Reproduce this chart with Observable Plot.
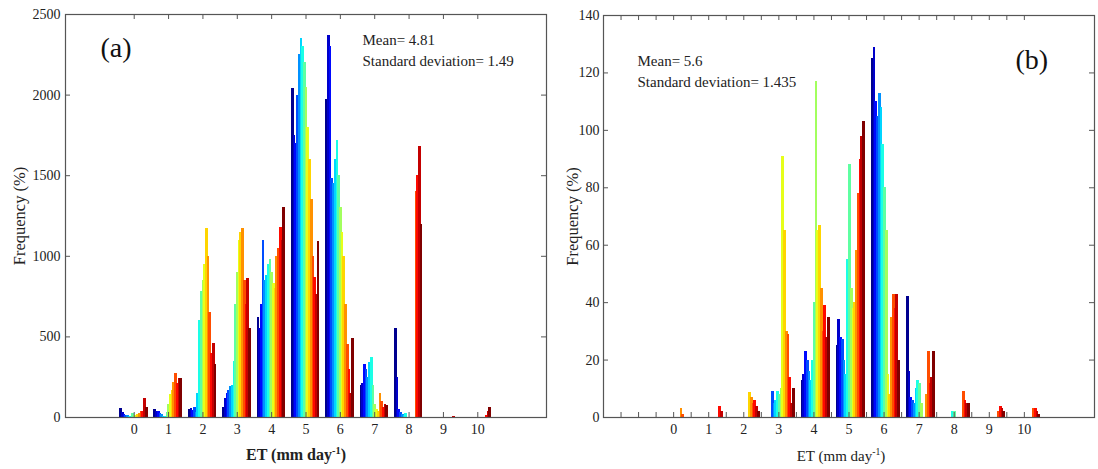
<!DOCTYPE html>
<html>
<head>
<meta charset="utf-8">
<script src="https://cdn.jsdelivr.net/npm/d3@7"></script>
<script src="https://cdn.jsdelivr.net/npm/@observablehq/plot@0.6"></script>
<style>
  html, body { margin: 0; padding: 0; background: #fff; }
  #wrap { position: relative; width: 1098px; height: 469px; overflow: hidden; font-family: "Liberation Serif", "Times New Roman", serif; }
  .panel { position: absolute; top: 0; }
  .xt { position: absolute; transform: translate(-50%, -50%); white-space: nowrap; color: #222; }
  .xt sup { font-size: 0.65em; vertical-align: 0.55em; line-height: 0; }
</style>
</head>
<body>
<div id="wrap">
  <div class="panel" id="pa" style="left:0px"></div>
  <div class="panel" id="pb" style="left:549px"></div>
  <div class="xt" style="left:296px; top:455px; font-size:16px; font-weight:bold;">ET (mm day<sup>-1</sup>)</div>
  <div class="xt" style="left:841px; top:456px; font-size:15px;">ET (mm day<sup>-1</sup>)</div>
</div>
<script>
// ET bin categories (mm/day)
const etBins = [0, 1, 2, 3, 4, 5, 6, 7, 8, 9, 10];
// tick labels / tick positions
const xLabels = [0, 1, 2, 3, 4, 5, 6, 7, 8, 9, 10];
const xTicksA = [0, 1, 2, 3, 4, 5, 6, 7, 8, 9, 10];
const xTicksB = [-1.5, -1, -0.5, 0, 0.5, 1, 1.5, 2, 2.5, 3, 3.5, 4, 4.5, 5, 5.5, 6, 6.5, 7, 7.5, 8, 8.5, 9, 9.5, 10];
const yTicksA = [0, 500, 1000, 1500, 2000, 2500];
const yTicksB = [0, 20, 40, 60, 80, 100, 120, 140];

// Panel (a): 16 series per ET bin (frequency)
const freqA = [
  [58, 30, 20, 15, 10, 8, 5, 25, 12, 15, 20, 25, 35, 40, 115, 60],
  [48, 40, 35, 25, 20, 8, 5, 30, 80, 140, 170, 220, 270, 210, 240, 245],
  [50, 55, 45, 60, 30, 150, 600, 780, 850, 950, 1170, 1000, 650, 400, 460, 330],
  [60, 120, 150, 170, 190, 200, 350, 700, 900, 1100, 1150, 1170, 850, 700, 860, 550],
  [620, 550, 700, 1100, 850, 880, 950, 980, 900, 830, 800, 1000, 1050, 1180, 1100, 1300],
  [2040, 1750, 1700, 2000, 2250, 2350, 2300, 2200, 2050, 1800, 1600, 1350, 1000, 870, 760, 1090],
  [1970, 2370, 2300, 1480, 1450, 1600, 1720, 1500, 1300, 1150, 1000, 700, 450, 300, 150, 490],
  [200, 210, 330, 300, 250, 340, 370, 200, 80, 50, 40, 150, 100, 60, 80, 75],
  [550, 250, 50, 30, 20, 10, 25, 0, 0, 0, 0, 0, 1400, 1500, 1680, 1200],
  [0, 0, 0, 0, 0, 0, 0, 0, 0, 0, 0, 0, 0, 0, 6, 0],
  [0, 0, 0, 0, 0, 0, 0, 0, 0, 0, 0, 0, 0, 10, 35, 65]
];
// Panel (b)
const freqB = [
  [0, 0, 0, 0, 0, 0, 0, 0, 0, 0, 0, 3, 1, 0, 0, 0],
  [0, 0, 0, 0, 0, 0, 0, 0, 0, 0, 0, 0, 0, 4, 2, 0],
  [0, 0, 0, 0, 0, 0, 0, 0, 0, 0, 8.7, 7, 5, 6, 4, 2],
  [0, 0, 0, 9, 5, 6, 9, 8, 10, 91, 65, 30, 29, 14, 5, 10],
  [13, 15, 23, 20, 16, 13, 20, 40, 117, 65, 67, 45, 30, 39, 28, 35],
  [25, 34, 28, 27, 20, 15, 55, 88, 45, 38, 40, 58, 78, 90, 98, 103],
  [125, 129, 110, 105, 113, 108, 95, 80, 65, 15, 8, 35, 43, 38, 43, 20],
  [42, 16, 7, 6, 5, 10, 13, 12, 5, 0, 0, 8, 23, 12, 14, 23],
  [0, 0, 0, 0, 0, 0, 2, 2, 0, 0, 0, 0, 9, 6, 5, 5],
  [0, 0, 0, 0, 0, 0, 0, 0, 0, 0, 0, 0, 2, 4, 3, 2],
  [0, 0, 0, 0, 0, 0, 0, 0, 0, 0, 0, 0, 3, 3, 2, 1]
];
const statsA = ["Mean= 4.81", "Standard deviation= 1.49"];
const statsB = ["Mean= 5.6", "Standard deviation= 1.435"];

const nSeries = 16;
const barW = 0.05;
const jetRange = ["#00008f", "#0000ff", "#00ffff", "#ffff00", "#ff0000", "#800000"];
const jetDomain = [0, 0.125, 0.375, 0.625, 0.875, 1].map(t => t * (nSeries - 1));

function rows(freq, start) {
  return etBins.flatMap((k, g) => freq[g].map((v, i) => ({
    x1: k + start + i * barW, x2: k + start + (i + 1) * barW, v, s: i
  }))).filter(d => d.v > 0);
}

const font = '"Liberation Serif", "Times New Roman", serif';

function panel(opts) {
  const W = 549, H = 469;
  const fw = W - opts.ml - opts.mr, fh = H - opts.mt - opts.mb;
  const tk = 5;
  return Plot.plot({
    width: W, height: H,
    marginLeft: opts.ml, marginRight: opts.mr, marginTop: opts.mt, marginBottom: opts.mb,
    style: {fontFamily: font, background: "white", color: "#222"},
    x: {domain: [-2, 12]},
    y: {domain: opts.yDomain},
    color: {type: "linear", domain: jetDomain, range: jetRange, interpolate: "rgb"},
    marks: [
      Plot.rect(opts.data, {x1: "x1", x2: "x2", y1: 0, y2: "v", fill: "s", insetLeft: -0.5, insetRight: -0.5, shapeRendering: "crispEdges"}),
      Plot.tickX(opts.xTicks, {x: d => d, insetTop: fh - tk, stroke: "#555"}),
      Plot.tickX(opts.xTicks, {x: d => d, insetBottom: fh - tk, stroke: "#555"}),
      Plot.tickY(opts.yTicks, {y: d => d, insetRight: fw - tk, stroke: "#555"}),
      Plot.tickY(opts.yTicks, {y: d => d, insetLeft: fw - tk, stroke: "#555"}),
      Plot.frame({stroke: "#555", strokeWidth: 1.2}),
      Plot.axisX({ticks: xLabels, tickSize: 0, tickPadding: 7, fontSize: 14, label: null, tickFormat: d => String(d)}),
      Plot.axisY({ticks: opts.yTicks, tickSize: 0, tickPadding: opts.yPad, fontSize: 14, label: null, tickFormat: d => String(d)}),
      Plot.text(["Frequency (%)"], {text: d => d, frameAnchor: "left", textAnchor: "middle", rotate: -90, dx: opts.ytDx, fontSize: 16.5, fill: "#222"}),
      Plot.text([opts.tag], {text: d => d, frameAnchor: "top-left", textAnchor: "start", lineAnchor: "middle", dx: opts.tagDx, dy: opts.tagDy, fontSize: 28, fill: "#111"}),
      Plot.text([opts.stats[0]], {text: d => d, frameAnchor: "top-left", textAnchor: "start", lineAnchor: "middle", dx: opts.stDx, dy: opts.stDy, fontSize: 15, fill: "#222"}),
      Plot.text([opts.stats[1]], {text: d => d, frameAnchor: "top-left", textAnchor: "start", lineAnchor: "middle", dx: opts.stDx, dy: opts.stDy + 21, fontSize: 15, fill: "#222"})
    ]
  });
}

const svgA = panel({
  ml: 65, mr: 3, mt: 14, mb: 52, yDomain: [0, 2500], data: rows(freqA, -0.41),
  xTicks: xTicksA, yTicks: yTicksA, yPad: 5, ytDx: -46,
  tag: "(a)", tagDx: 35, tagDy: 34, stats: statsA, stDx: 297, stDy: 26
});
const svgB = panel({
  ml: 54, mr: 4, mt: 15, mb: 52, yDomain: [0, 140], data: rows(freqB, -0.35),
  xTicks: xTicksB, yTicks: yTicksB, yPad: 4, ytDx: -31,
  tag: "(b)", tagDx: 412, tagDy: 45, stats: statsB, stDx: 34, stDy: 46
});
document.getElementById("pa").appendChild(svgA);
document.getElementById("pb").appendChild(svgB);
</script>
</body>
</html>
